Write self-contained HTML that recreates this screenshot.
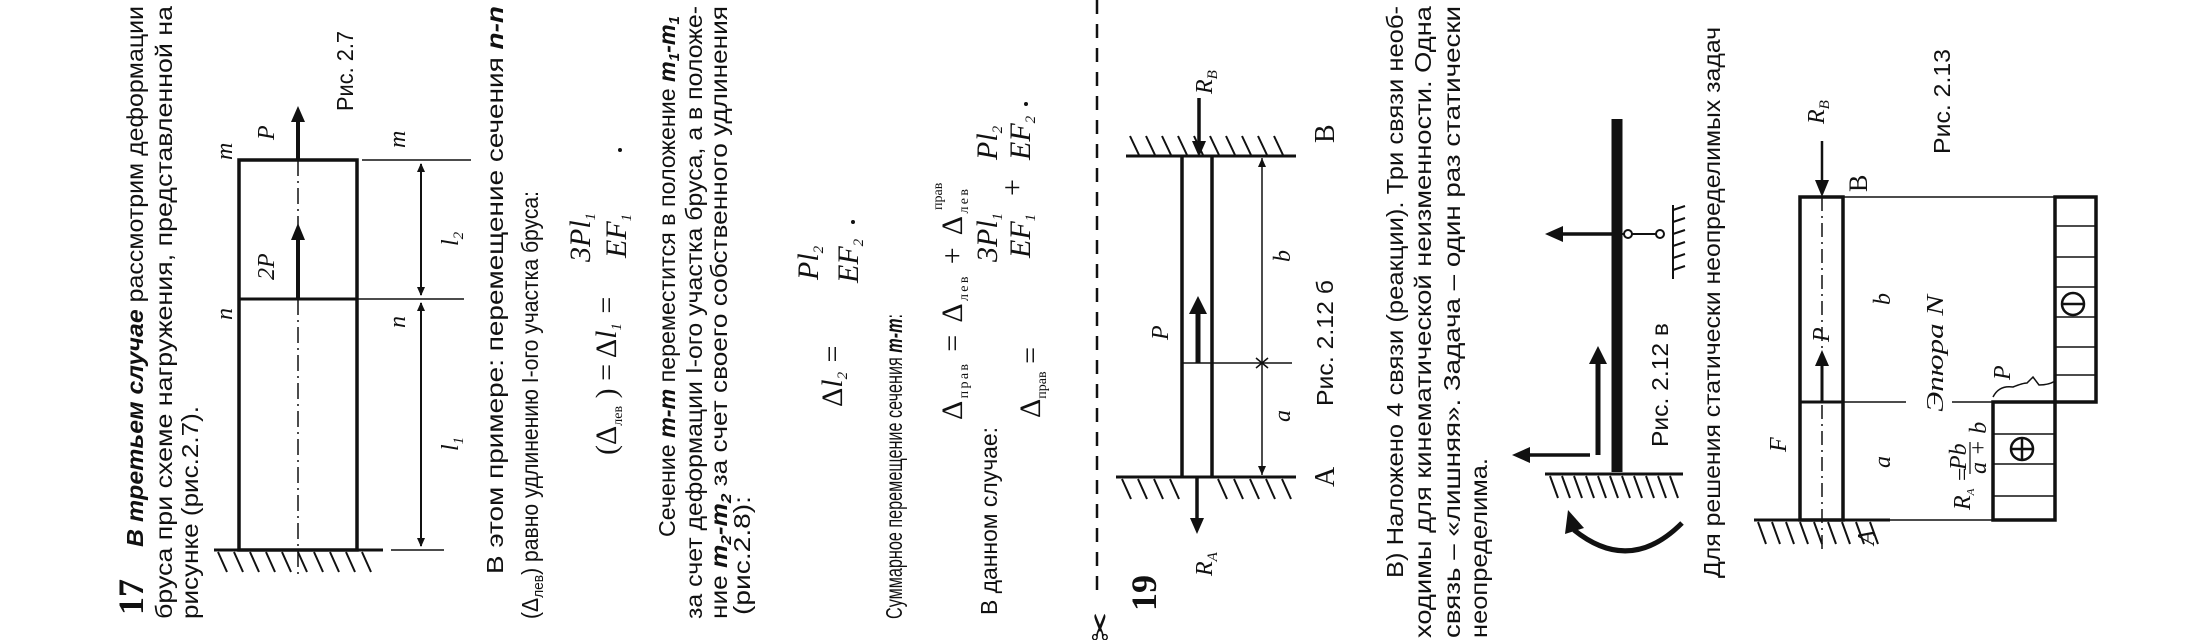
<!DOCTYPE html>
<html><head><meta charset="utf-8"><style>
html,body{margin:0;padding:0;background:#fff;}
svg{display:block;}
.t{font-family:"Liberation Sans","DejaVu Sans",sans-serif;font-size:23px;fill:#111;}
.m{font-family:"Liberation Serif","DejaVu Serif",serif;font-style:italic;font-size:30px;fill:#111;}
.l{font-family:"Liberation Serif","DejaVu Serif",serif;font-style:italic;font-size:24px;fill:#111;}
.bi{font-weight:bold;font-style:italic;}
</style></head><body>
<svg width="2200" height="640" viewBox="0 0 2200 640" xmlns="http://www.w3.org/2000/svg">
<rect width="2200" height="640" fill="#fff"/>

<!-- ===== Block 17 text ===== -->
<text class="t" transform="translate(143 615) rotate(-90)" style="font-family:'Liberation Serif',serif;font-weight:bold;font-size:36px">17</text>
<text class="t" transform="translate(143 547) rotate(-90)" textLength="541" lengthAdjust="spacingAndGlyphs"><tspan class="bi">В третьем случае</tspan> рассмотрим деформации</text>
<text class="t" transform="translate(172 619) rotate(-90)" textLength="613" lengthAdjust="spacingAndGlyphs">бруса при схеме нагружения, представленной на</text>
<text class="t" transform="translate(198 619) rotate(-90)" textLength="213" lengthAdjust="spacingAndGlyphs">рисунке (рис.2.7).</text>

<!-- Fig 2.7 -->
<g stroke="#111" fill="none">
<rect x="239" y="160" width="118" height="390" stroke-width="3.5"/>
<line x1="239" y1="299" x2="357" y2="299" stroke-width="3"/>
<line x1="214" y1="550" x2="383" y2="550" stroke-width="3"/>
<path d="M218 552l9 20M234 552l9 20M250 552l9 20M266 552l9 20M282 552l9 20M298 552l9 20M314 552l9 20M330 552l9 20M346 552l9 20M362 552l9 20" stroke-width="2"/>
<line x1="298" y1="299" x2="298" y2="575" stroke-width="1.5" stroke-dasharray="16 5 2 5"/>
<line x1="298" y1="160" x2="298" y2="225" stroke-width="1.5" stroke-dasharray="16 5 2 5"/>
<line x1="298" y1="160" x2="298" y2="118" stroke-width="4"/>
<line x1="298" y1="299" x2="298" y2="236" stroke-width="4"/>
<line x1="362" y1="160" x2="471" y2="160" stroke-width="1.5"/>
<line x1="357" y1="299" x2="464" y2="299" stroke-width="1.5"/>
<line x1="391" y1="550" x2="444" y2="550" stroke-width="1.5"/>
<line x1="421" y1="164" x2="421" y2="295" stroke-width="2"/>
<line x1="421" y1="303" x2="421" y2="546" stroke-width="2"/>
</g>
<g fill="#111">
<polygon points="298,106 291,122 305,122"/>
<polygon points="298,223 291,240 305,240"/>
<polygon points="421,163 417,172 425,172"/><polygon points="421,296 417,287 425,287"/>
<polygon points="421,302 417,311 425,311"/><polygon points="421,547 417,538 425,538"/>
</g>
<text class="l" transform="translate(232 160) rotate(-90)">m</text>
<text class="l" transform="translate(274 140) rotate(-90)">P</text>
<text class="l" transform="translate(274 280) rotate(-90)">2P</text>
<text class="l" transform="translate(232 320) rotate(-90)">n</text>
<text class="l" transform="translate(405 148) rotate(-90)">m</text>
<text class="l" transform="translate(405 328) rotate(-90)">n</text>
<text class="l" transform="translate(458 246) rotate(-90)">l<tspan font-size="15" dy="5">2</tspan></text>
<text class="l" transform="translate(458 451) rotate(-90)">l<tspan font-size="15" dy="5">1</tspan></text>
<text class="t" transform="translate(353 111) rotate(-90)" textLength="80" lengthAdjust="spacingAndGlyphs">Рис. 2.7</text>

<text class="t" transform="translate(503 574) rotate(-90)" textLength="568" lengthAdjust="spacingAndGlyphs">В  этом  примере:  перемещение  сечения  <tspan class="bi">n-n</tspan></text>
<text class="t" transform="translate(538 619) rotate(-90)" textLength="428" lengthAdjust="spacingAndGlyphs">(Δ<tspan font-size="15" dy="5">лев</tspan><tspan dy="-5">) равно удлинению I-ого участка бруса:</tspan></text>

<!-- formula 1 -->
<text class="m" transform="translate(616 455) rotate(-90)"><tspan font-style="normal">(Δ</tspan><tspan font-size="14" font-style="normal" dy="6">лев</tspan><tspan dy="-6" font-style="normal"> ) = Δ</tspan>l<tspan font-size="15" dy="5">1</tspan><tspan dy="-5"> =</tspan></text>
<text class="m" transform="translate(590 262) rotate(-90)">3Pl<tspan font-size="15" dy="5">1</tspan></text>
<text class="m" transform="translate(626 258) rotate(-90)">EF<tspan font-size="15" dy="5">1</tspan></text>
<circle cx="620" cy="150" r="2" fill="#111"/>

<text class="t" transform="translate(675 537) rotate(-90)" textLength="521" lengthAdjust="spacingAndGlyphs">Сечение <tspan class="bi">m-m</tspan> переместится в положение <tspan class="bi">m<tspan font-size="15" dy="4">1</tspan><tspan dy="-4">-m</tspan><tspan font-size="15" dy="4">1</tspan></tspan></text>
<text class="t" transform="translate(702 619) rotate(-90)" textLength="613" lengthAdjust="spacingAndGlyphs">за счет деформации I-ого участка бруса, а в положе-</text>
<text class="t" transform="translate(727 619) rotate(-90)" textLength="613" lengthAdjust="spacingAndGlyphs">ние <tspan class="bi">m<tspan font-size="15" dy="4">2</tspan><tspan dy="-4">-m</tspan><tspan font-size="15" dy="4">2</tspan></tspan><tspan dy="-4"> за счет своего собственного удлинения</tspan></text>
<text class="t" transform="translate(750 615) rotate(-90)" textLength="119" lengthAdjust="spacingAndGlyphs">(рис.2.8):</text>

<!-- formula dl2 -->
<text class="m" transform="translate(842 407) rotate(-90)"><tspan font-style="normal">Δ</tspan>l<tspan font-size="15" dy="5">2</tspan><tspan dy="-5"> =</tspan></text>
<text class="m" transform="translate(818 280) rotate(-90)">Pl<tspan font-size="15" dy="5">2</tspan></text>
<text class="m" transform="translate(858 283) rotate(-90)">EF<tspan font-size="15" dy="5">2</tspan></text>
<circle cx="853" cy="222" r="2" fill="#111"/>

<text class="t" transform="translate(902 619) rotate(-90)" textLength="305" lengthAdjust="spacingAndGlyphs">Суммарное перемещение сечения <tspan class="bi">m-m</tspan>:</text>
<text class="m" transform="translate(962 420) rotate(-90)" style="font-style:normal" textLength="231" lengthAdjust="spacing">Δ<tspan font-size="14" dy="6">прав</tspan><tspan dy="-6"> = Δ</tspan><tspan font-size="14" dy="6">лев</tspan><tspan dy="-6"> + Δ</tspan><tspan font-size="14" dy="6">лев</tspan></text>
<text class="m" transform="translate(942 210) rotate(-90)" style="font-style:normal;font-size:14px">прав</text>
<text class="t" transform="translate(997 615) rotate(-90)" textLength="188" lengthAdjust="spacingAndGlyphs">В данном случае:</text>
<text class="m" transform="translate(1040 418) rotate(-90)" style="font-style:normal">Δ<tspan font-size="14" dy="6">прав</tspan><tspan dy="-6"> =</tspan></text>
<text class="m" transform="translate(997 262) rotate(-90)">3Pl<tspan font-size="15" dy="5">1</tspan></text>
<text class="m" transform="translate(1030 258) rotate(-90)">EF<tspan font-size="15" dy="5">1</tspan></text>
<text class="m" transform="translate(1022 196) rotate(-90)" style="font-style:normal">+</text>
<text class="m" transform="translate(997 160) rotate(-90)">Pl<tspan font-size="15" dy="5">2</tspan></text>
<text class="m" transform="translate(1030 160) rotate(-90)">EF<tspan font-size="15" dy="5">2</tspan></text>
<circle cx="1026" cy="104" r="2" fill="#111"/>

<!-- dashed cut line -->
<line x1="1097" y1="0" x2="1097" y2="590" stroke="#111" stroke-width="2.5" stroke-dasharray="14 10"/>
<text transform="translate(1113 642) rotate(-90)" style="font-family:'DejaVu Sans',sans-serif;font-size:36px;fill:#111">✂</text>
<text transform="translate(1156 611) rotate(-90)" style="font-family:'Liberation Serif',serif;font-weight:bold;font-size:36px;fill:#111">19</text>

<!-- Fig 2.12 б -->
<g stroke="#111" fill="none">
<line x1="1126" y1="156" x2="1296" y2="156" stroke-width="3"/>
<path d="M1130 136l9 19M1146 136l9 19M1162 136l9 19M1178 136l9 19M1194 136l9 19M1210 136l9 19M1226 136l9 19M1242 136l9 19M1258 136l9 19M1274 136l9 19" stroke-width="2"/>
<line x1="1116" y1="477" x2="1296" y2="477" stroke-width="3"/>
<path d="M1122 479l9 20M1138 479l9 20M1154 479l9 20M1170 479l9 20M1218 479l9 20M1234 479l9 20M1250 479l9 20M1266 479l9 20M1282 479l9 20" stroke-width="2"/>
<line x1="1182" y1="156" x2="1182" y2="477" stroke-width="3.5"/>
<line x1="1212" y1="156" x2="1212" y2="477" stroke-width="3.5"/>
<line x1="1182" y1="363" x2="1292" y2="363" stroke-width="1.5"/>
<line x1="1262" y1="158" x2="1262" y2="475" stroke-width="1.5"/>
<line x1="1198" y1="363" x2="1198" y2="310" stroke-width="5"/>
<line x1="1199" y1="98" x2="1199" y2="145" stroke-width="3.5"/>
<line x1="1197" y1="477" x2="1197" y2="522" stroke-width="3.5"/>
<path d="M1256 358l12 10M1256 368l12 -10" stroke-width="1.5"/>
</g>
<g fill="#111">
<polygon points="1198,296 1189,314 1207,314"/>
<polygon points="1199,157 1192,141 1206,141"/>
<polygon points="1197,534 1190,518 1204,518"/>
<polygon points="1262,158 1258,167 1266,167"/><polygon points="1262,475 1258,466 1266,466"/>
</g>
<text class="l" transform="translate(1212 94) rotate(-90)">R<tspan font-size="15" dy="5">В</tspan></text>
<text class="l" transform="translate(1212 576) rotate(-90)">R<tspan font-size="15" dy="5">А</tspan></text>
<text class="l" transform="translate(1168 340) rotate(-90)">P</text>
<text class="l" transform="translate(1290 262) rotate(-90)">b</text>
<text class="l" transform="translate(1290 422) rotate(-90)">a</text>
<text transform="translate(1334 143) rotate(-90)" style="font-family:'Liberation Serif',serif;font-size:28px;fill:#111">В</text>
<text transform="translate(1334 487) rotate(-90)" style="font-family:'Liberation Serif',serif;font-size:28px;fill:#111">А</text>
<text class="t" transform="translate(1333 406) rotate(-90)" textLength="126" lengthAdjust="spacingAndGlyphs">Рис. 2.12 б</text>

<text class="t" transform="translate(1403 578) rotate(-90)" textLength="572" lengthAdjust="spacingAndGlyphs">В) Наложено 4 связи (реакции). Три связи необ-</text>
<text class="t" transform="translate(1431 638) rotate(-90)" textLength="632" lengthAdjust="spacingAndGlyphs">ходимы  для  кинематической  неизменности.  Одна</text>
<text class="t" transform="translate(1460 638) rotate(-90)" textLength="632" lengthAdjust="spacingAndGlyphs">связь  –  «лишняя».  Задача  –  один  раз  статически</text>
<text class="t" transform="translate(1487 638) rotate(-90)" textLength="180" lengthAdjust="spacingAndGlyphs">неопределима.</text>

<!-- Fig 2.12 в -->
<g stroke="#111" fill="none">
<line x1="1617" y1="119" x2="1617" y2="472" stroke-width="11"/>
<line x1="1545" y1="474" x2="1683" y2="474" stroke-width="3"/>
<path d="M1550 476l8 22M1562 476l8 22M1574 476l8 22M1586 476l8 22M1598 476l8 22M1610 476l8 22M1622 476l8 22M1634 476l8 22M1646 476l8 22M1658 476l8 22M1670 476l8 22" stroke-width="2"/>
<line x1="1612" y1="234" x2="1560" y2="234" stroke-width="3.5"/>
<line x1="1622" y1="234" x2="1656" y2="234" stroke-width="2"/>
<circle cx="1628" cy="234" r="4" fill="#fff" stroke-width="2"/>
<circle cx="1660" cy="234" r="4" fill="#fff" stroke-width="2"/>
<line x1="1673" y1="205" x2="1673" y2="279" stroke-width="2"/>
<path d="M1673 210l12 -4M1673 222l12 -4M1673 234l12 -4M1673 246l12 -4M1673 258l12 -4M1673 270l12 -4" stroke-width="2"/>
<line x1="1590" y1="455" x2="1528" y2="455" stroke-width="3.5"/>
<line x1="1598" y1="455" x2="1598" y2="362" stroke-width="5"/>
<path d="M1682 523 Q1630 575 1574 530" stroke-width="5"/>
</g>
<g fill="#111">
<polygon points="1545,234 1563,226 1563,242"/>
<polygon points="1512,455 1530,447 1530,463"/>
<polygon points="1598,346 1589,364 1607,364"/>
<polygon points="1568,510 1565,534 1584,528"/>
</g>
<text class="t" transform="translate(1668 447) rotate(-90)" textLength="124" lengthAdjust="spacingAndGlyphs">Рис. 2.12 в</text>
<text class="t" transform="translate(1720 578) rotate(-90)" textLength="551" lengthAdjust="spacingAndGlyphs">Для решения статически неопределимых задач</text>

<!-- Fig 2.13 -->
<g stroke="#111" fill="none">
<rect x="1800" y="197" width="43" height="323" stroke-width="3.5"/>
<line x1="1800" y1="402" x2="1843" y2="402" stroke-width="3"/>
<line x1="1822" y1="197" x2="1822" y2="552" stroke-width="1.5" stroke-dasharray="14 5 2 5"/>
<line x1="1754" y1="520" x2="1890" y2="520" stroke-width="3"/>
<path d="M1758 522l8 22M1772 522l8 22M1786 522l8 22M1800 522l8 22M1814 522l8 22M1828 522l8 22M1842 522l8 22M1856 522l8 22M1870 522l8 22" stroke-width="2"/>
<line x1="1822" y1="141" x2="1822" y2="185" stroke-width="2.5"/>
<line x1="1822" y1="402" x2="1822" y2="362" stroke-width="3"/>
<line x1="1843" y1="197" x2="2096" y2="197" stroke-width="1.5"/>
<line x1="1843" y1="520" x2="1993" y2="520" stroke-width="1.5"/>
<line x1="1843" y1="402" x2="1906" y2="402" stroke-width="1.5"/>
<line x1="1952" y1="402" x2="1993" y2="402" stroke-width="1.5"/>
<rect x="2055" y="197" width="41" height="205" stroke-width="3.5"/>
<path d="M2055 226h41M2055 257h41M2055 287h41M2055 317h41M2055 347h41M2055 375h41" stroke-width="1.5"/>
<rect x="1993" y="402" width="62" height="118" stroke-width="3.5"/>
<path d="M1993 434h62M1993 464h62M1993 496h62" stroke-width="1.5"/>
<circle cx="2073" cy="304" r="11" stroke-width="2.5"/>
<line x1="2062" y1="304" x2="2084" y2="304" stroke-width="2.5"/>
<circle cx="2022" cy="449" r="11" stroke-width="2.5"/>
<path d="M2011 449h22M2022 438v22" stroke-width="2.5"/>
<path d="M1993 397 q6 -12 20 -10 q10 -4 14 -4 l6 -6 l6 8 q10 0 16 -4" stroke-width="1.5"/>
</g>
<g fill="#111">
<polygon points="1822,197 1815,180 1829,180"/>
<polygon points="1822,350 1815,366 1829,366"/>
</g>
<text class="l" transform="translate(1824 124) rotate(-90)">R<tspan font-size="15" dy="5">В</tspan></text>
<text transform="translate(1867 192) rotate(-90)" style="font-family:'Liberation Serif',serif;font-size:26px;fill:#111">В</text>
<text class="l" transform="translate(1829 342) rotate(-90)" font-size="20">P</text>
<text class="l" transform="translate(1786 452) rotate(-90)">F</text>
<text class="l" transform="translate(1890 305) rotate(-90)">b</text>
<text class="l" transform="translate(1890 468) rotate(-90)">a</text>
<text class="l" transform="translate(1943 412) rotate(-90)" textLength="117" lengthAdjust="spacingAndGlyphs">Эпюра N</text>
<text class="t" transform="translate(1950 154) rotate(-90)" textLength="105" lengthAdjust="spacingAndGlyphs">Рис. 2.13</text>
<text class="l" transform="translate(2010 380) rotate(-90)" font-size="18">P</text>
<text class="l" transform="translate(1970 510) rotate(-90)" font-size="17">R<tspan font-size="11" dy="4">А</tspan><tspan dy="-4"> =</tspan></text>
<text class="l" transform="translate(1966 470) rotate(-90)" font-size="13">Pb</text>
<line x1="1970" y1="474" x2="1970" y2="442" stroke="#111" stroke-width="1.2"/>
<text class="l" transform="translate(1986 474) rotate(-90)" font-size="13">a + b</text>
<text class="l" transform="translate(1874 545) rotate(-90)" font-size="16">А</text>
</svg>
</body></html>
